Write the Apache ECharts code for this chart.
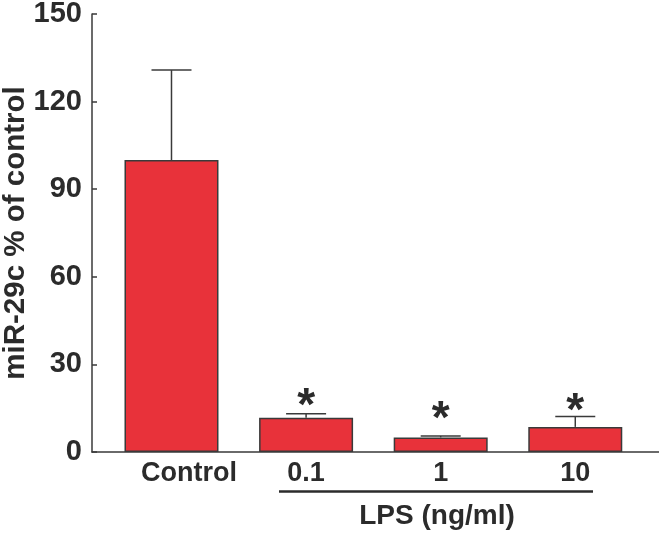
<!DOCTYPE html>
<html>
<head>
<meta charset="utf-8">
<script src="https://cdn.jsdelivr.net/npm/echarts@6/dist/echarts.min.js"></script>
<style>
html,body{margin:0;padding:0;background:#fff;}
#chart{width:659px;height:533px;}
</style>
</head>
<body>
<div id="chart"></div>
<script>
// ---- data ----
var categories = ['Control', '0.1', '1', '10'];
var means = [100, 11.7, 5.0, 8.6];
var errorTops = [130.8, 13.1, 5.5, 12.2];
var starLevels = [null, 18.5, 13.8, 16.8];
var yTicks = [0, 30, 60, 90, 120, 150];
var yAxisTitle = 'miR-29c % of control';
var groupLabel = 'LPS (ng/ml)';

var TEXT = '#2b2b2b';
var LINE = '#3a3a3a';
var FONT = '"Liberation Sans", Arial, sans-serif';

var barData = categories.map(function (c, i) { return [i, means[i]]; });
var errData = categories.map(function (c, i) { return [i, means[i], errorTops[i], starLevels[i] == null ? '-' : starLevels[i]]; });

var chart = echarts.init(document.getElementById('chart'), null, { renderer: 'canvas' });
chart.setOption({
  backgroundColor: '#fff',
  animation: false,
  grid: { left: 92, right: 0, top: 14, bottom: 81, containLabel: false, outerBoundsMode: 'none' },
  xAxis: {
    type: 'value',
    min: -0.5906,
    max: 3.622,
    splitLine: { show: false },
    axisTick: { show: false },
    axisLine: { show: true, onZero: false, lineStyle: { color: LINE, width: 1.5 } },
    axisLabel: {
      customValues: [0, 1, 2, 3],
      formatter: function (v) {
        var i = Math.round(v);
        return i === 0 ? '{first|' + categories[i] + '}' : categories[i];
      },
      rich: {
        first: { color: TEXT, fontFamily: FONT, fontWeight: 'bold', fontSize: 27, padding: [0, 0, 0, 35] }
      },
      color: TEXT, fontFamily: FONT, fontWeight: 'bold', fontSize: 27, margin: 8
    }
  },
  yAxis: {
    type: 'value',
    min: yTicks[0],
    max: yTicks[yTicks.length - 1],
    interval: 30,
    splitLine: { show: false },
    axisLine: { show: true, onZero: false, lineStyle: { color: LINE, width: 1.5 } },
    axisTick: { show: true, inside: true, length: 5, lineStyle: { color: LINE, width: 1.5 } },
    axisLabel: { color: TEXT, fontFamily: FONT, fontWeight: 'bold', fontSize: 29, margin: 10 },
    name: yAxisTitle,
    nameLocation: 'middle',
    nameRotate: 90,
    nameGap: 61,
    nameMoveOverlap: false,
    nameTextStyle: { color: TEXT, fontFamily: FONT, fontWeight: 'bold', fontSize: 29.5 }
  },
  series: [
    {
      type: 'bar',
      data: barData,
      barWidth: 94,
      itemStyle: { color: '#E8323A', borderColor: LINE, borderWidth: 1.5 },
      z: 2
    },
    {
      type: 'custom',
      clip: false,
      z: 3,
      data: errData,
      renderItem: function (params, api) {
        var x = api.value(0);
        var top = api.coord([x, api.value(2)]);
        var base = api.coord([x, api.value(1)]);
        var children = [
          { type: 'line', shape: { x1: top[0], y1: base[1], x2: top[0], y2: top[1] }, style: { stroke: LINE, lineWidth: 1.5 } },
          { type: 'line', shape: { x1: top[0] - 20, y1: top[1], x2: top[0] + 20, y2: top[1] }, style: { stroke: LINE, lineWidth: 1.5 } }
        ];
        var s = api.value(3);
        if (!isNaN(s)) {
          var sp = api.coord([x, s]);
          children.push({ type: 'text', x: sp[0], y: sp[1] + 9, style: { text: '*', fill: TEXT, font: 'bold 46px ' + FONT, align: 'center', verticalAlign: 'middle' } });
        }
        return { type: 'group', children: children };
      }
    }
  ],
  graphic: [
    { type: 'line', shape: { x1: 279, y1: 491.5, x2: 593, y2: 491.5 }, style: { stroke: TEXT, lineWidth: 2.5 } },
    { type: 'text', x: 437, y: 516, style: { text: groupLabel, fill: TEXT, font: 'bold 28px ' + FONT, align: 'center', verticalAlign: 'middle' } }
  ]
});
</script>
</body>
</html>
